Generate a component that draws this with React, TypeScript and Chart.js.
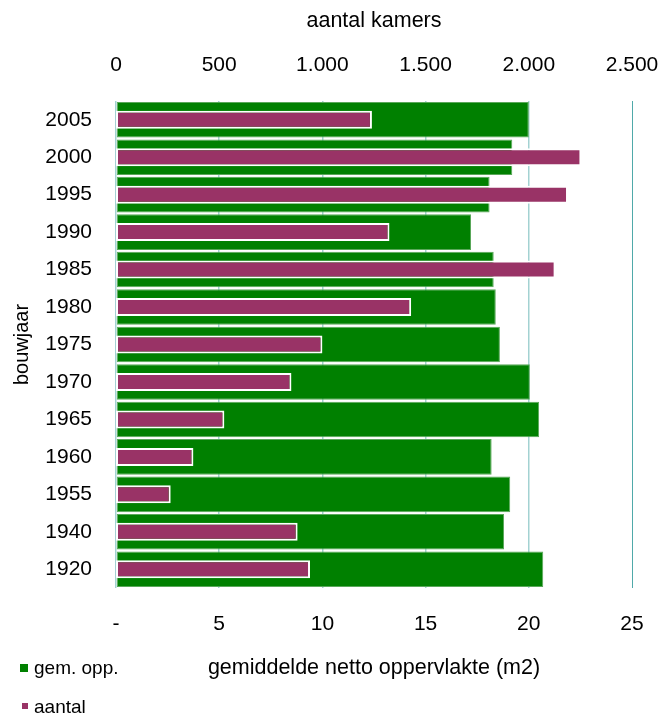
import React, { useEffect, useRef } from "react";
import { Chart, registerables } from "chart.js";

Chart.register(...registerables);

const categories = ["2005", "2000", "1995", "1990", "1985", "1980", "1975", "1970", "1965", "1960", "1955", "1940", "1920"];
const gemOpp = [20.0, 19.2, 18.1, 17.2, 18.3, 18.4, 18.6, 20.05, 20.5, 18.2, 19.1, 18.8, 20.7];
const aantal = [1240, 2255, 2190, 1325, 2130, 1430, 1000, 850, 525, 375, 265, 880, 940];
const bottomTicks = [0, 5, 10, 15, 20, 25];
const topTicks = [0, 500, 1000, 1500, 2000, 2500];

const GREEN = "#008000";
const PURPLE = "#993366";
const FONT = "'Liberation Sans', Arial, sans-serif";

function fmtThousands(v: number): string {
  const s = String(Math.round(v));
  return s.replace(/\B(?=(\d{3})+(?!\d))/g, ".");
}

export default function App() {
  const ref = useRef<HTMLCanvasElement | null>(null);

  useEffect(() => {
    if (!ref.current) return;
    const chart = new Chart(ref.current, {
      type: "bar",
      data: {
        labels: categories,
        datasets: [
          {
            label: "gem. opp.",
            data: gemOpp,
            xAxisID: "x",
            backgroundColor: GREEN,
            borderColor: "#5aa85a",
            borderWidth: 1,
            borderSkipped: false,
            barPercentage: 0.95,
            categoryPercentage: 1,
            grouped: false,
            order: 2,
          },
          {
            label: "aantal",
            data: aantal,
            xAxisID: "x2",
            backgroundColor: PURPLE,
            borderColor: "#ffffff",
            borderWidth: 2,
            borderSkipped: false,
            barPercentage: 0.48,
            categoryPercentage: 1,
            grouped: false,
            order: 1,
          },
        ],
      },
      options: {
        indexAxis: "y",
        animation: false,
        responsive: true,
        maintainAspectRatio: false,
        layout: { padding: { left: 0, right: 28, top: 0, bottom: 0 } },
        plugins: {
          legend: { display: false },
          tooltip: { enabled: false },
        },
        scales: {
          y: {
            type: "category",
            position: "left",
            offset: true,
            grid: { display: false, drawTicks: false },
            border: { display: false },
            ticks: {
              color: "#000",
              font: { family: FONT, size: 21 },
              padding: 24,
            },
            title: {
              display: true,
              text: "bouwjaar",
              color: "#000",
              font: { family: FONT, size: 20 },
              padding: { top: 10, bottom: 0 },
            },
            afterFit: (s: any) => {
              s.width = 116;
              s.paddingTop = 0;
              s.paddingBottom = 0;
            },
          },
          x: {
            type: "linear",
            position: "bottom",
            min: 0,
            max: 25,
            afterBuildTicks: (s: any) => {
              s.ticks = bottomTicks.map((v) => ({ value: v }));
            },
            grid: {
              display: true,
              drawTicks: false,
              color: (c: any) => (c.tick && c.tick.value === 25 ? "#4fa9a9" : "#a3d2d2"),
              lineWidth: (c: any) => (c.tick && c.tick.value === 25 ? 1 : 1.5),
            },
            border: { display: false },
            ticks: {
              color: "#000",
              font: { family: FONT, size: 21 },
              padding: 24,
              callback: (v: any) => (Number(v) === 0 ? "-" : String(v)),
            },
            title: {
              display: true,
              text: "gemiddelde netto oppervlakte (m2)",
              color: "#000",
              font: { family: FONT, size: 21.5 },
              padding: { top: 0, bottom: 34 },
            },
            afterFit: (s: any) => {
              s.height = 127;
              s.paddingLeft = 0;
              s.paddingRight = 0;
            },
          },
          x2: {
            type: "linear",
            position: "top",
            min: 0,
            max: 2500,
            afterBuildTicks: (s: any) => {
              s.ticks = topTicks.map((v) => ({ value: v }));
            },
            grid: { display: false, drawTicks: false },
            border: { display: false },
            ticks: {
              color: "#000",
              font: { family: FONT, size: 21 },
              padding: 23,
              callback: (v: any) => fmtThousands(Number(v)),
            },
            title: {
              display: true,
              text: "aantal kamers",
              color: "#000",
              font: { family: FONT, size: 21.5 },
              padding: { top: 8, bottom: 0 },
            },
            afterFit: (s: any) => {
              s.height = 101;
              s.paddingLeft = 0;
              s.paddingRight = 0;
            },
          },
        },
      },
    });
    return () => chart.destroy();
  }, []);

  const legendText: React.CSSProperties = {
    position: "absolute",
    fontFamily: FONT,
    fontSize: 19,
    color: "#000",
    lineHeight: "22px",
    whiteSpace: "nowrap",
  };

  return (
    <div style={{ position: "absolute", left: 0, top: 0, width: 660, height: 715 }}>
      <canvas ref={ref} />
      <div style={{ position: "absolute", left: 20, top: 664, width: 8, height: 8, background: GREEN }} />
      <div style={{ ...legendText, left: 34, top: 657 }}>gem. opp.</div>
      <div style={{ position: "absolute", left: 22, top: 703, width: 6, height: 6, background: PURPLE }} />
      <div style={{ ...legendText, left: 34, top: 696 }}>aantal</div>
    </div>
  );
}
